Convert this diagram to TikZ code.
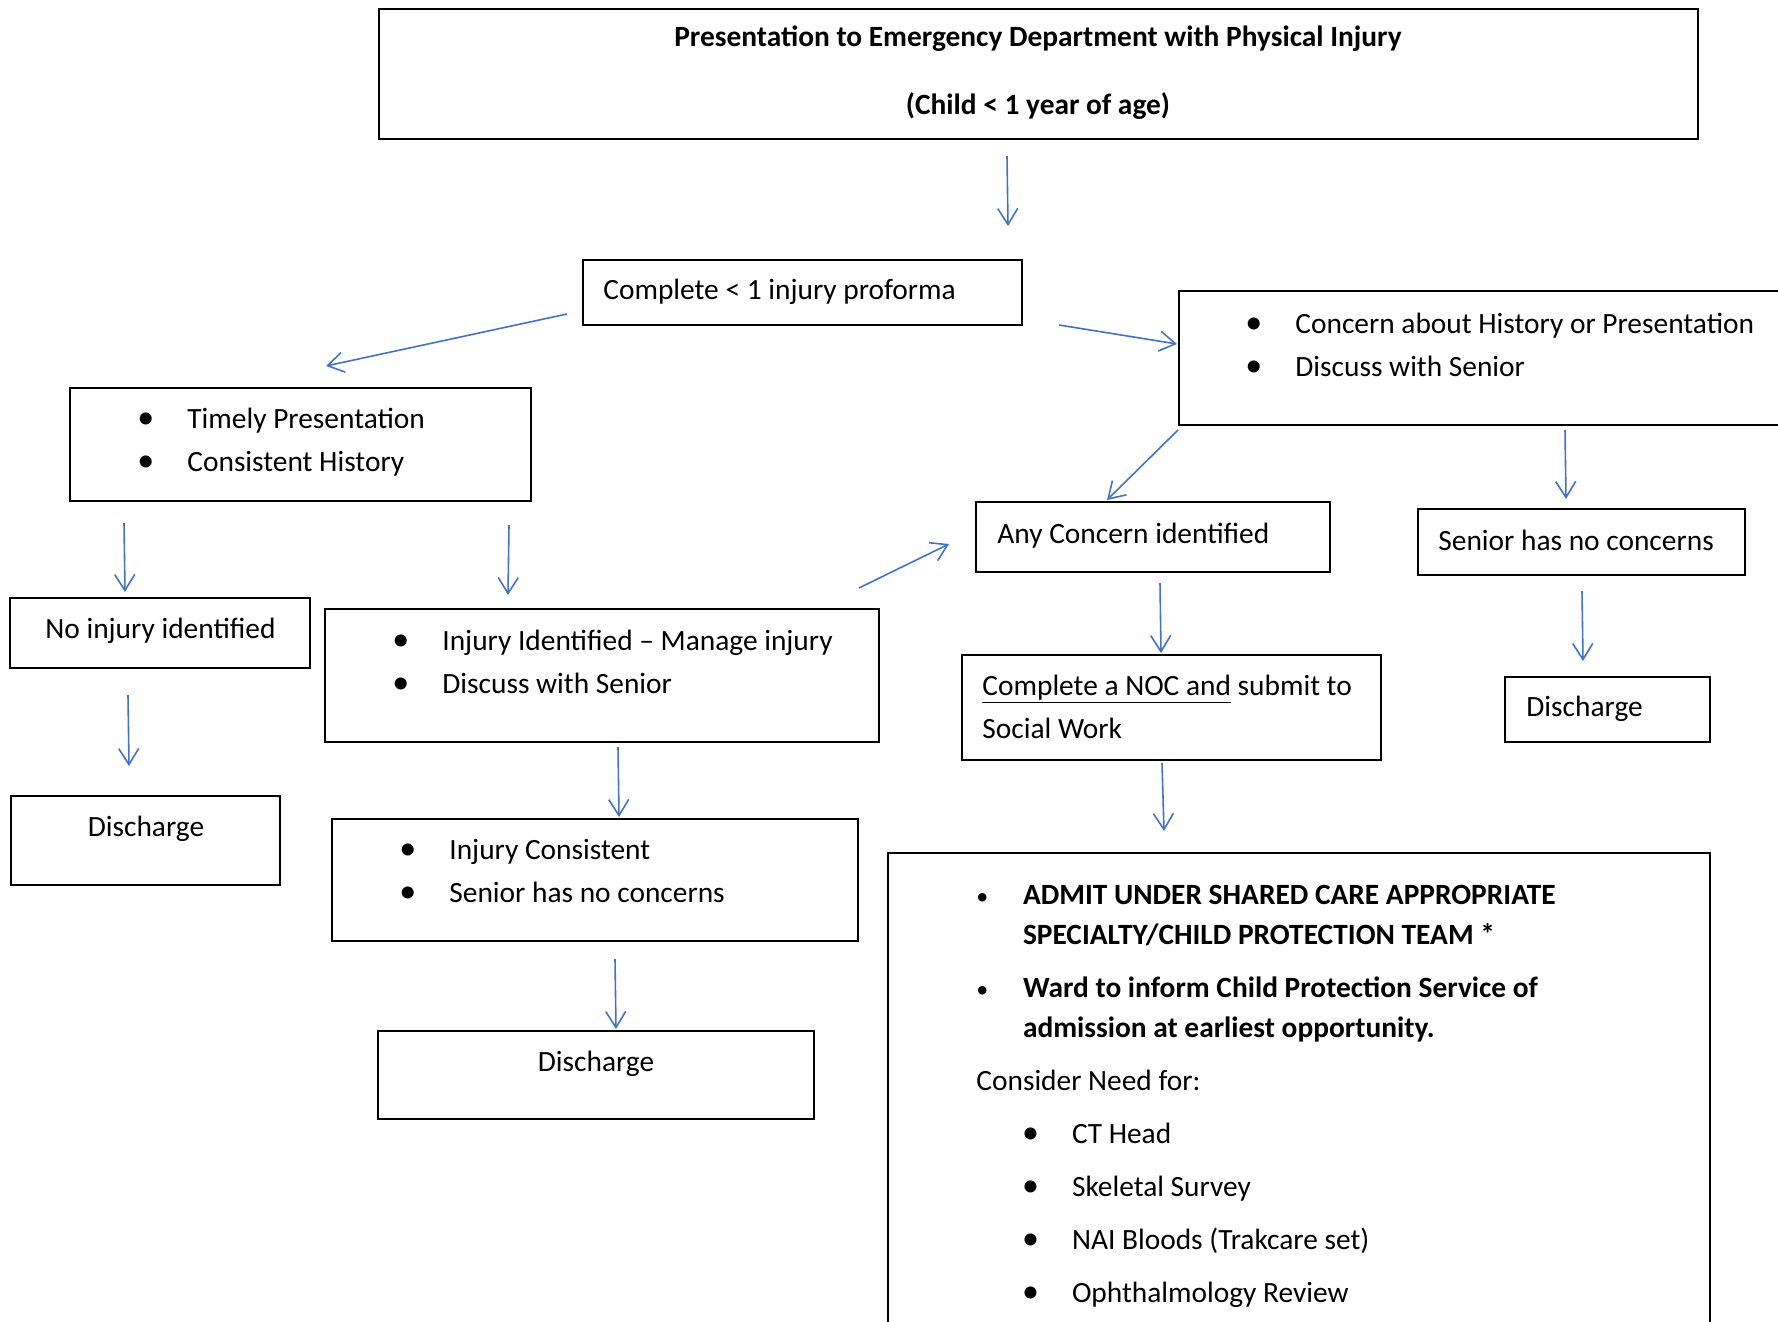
\documentclass[tikz,border=0pt]{standalone}
\usepackage{fontspec}
\setmainfont{Carlito}
\usetikzlibrary{arrows.meta,calc,fit}
\definecolor{flowblue}{RGB}{68,114,196}
\newcommand{\blt}{\makebox[25pt][l]{{\fontsize{17}{17}\selectfont\textbullet}}}
\newcommand{\bltsm}{\makebox[23.3pt][l]{{\fontsize{12}{12}\selectfont\textbullet}}}

\tikzset{
  box/.style={draw, line width=1pt, inner sep=0pt},
  txt/.style={inner sep=0pt, anchor=base west, align=left,
    execute at begin node={\spaceskip=0pt\xspaceskip=0pt\relax}},
  flow/.style={draw=flowblue, line width=0.8pt, -{Straight Barb[length=8pt,width=10pt]}},
}

\begin{document}
\begin{tikzpicture}[x=0.5pt,y=-0.5pt, font=\fontsize{14.7}{21.5}\selectfont]
\path[use as bounding box, clip] (0,0) rectangle (1778,1322);
% boxes
\node[box, fit={(379,9) (1698,139)}] (present) {};
\node[box, fit={(583,260) (1022,325)}] (proforma) {};
\node[box, fit={(1179,291) (1800,425)}] (concern) {};
\node[box, fit={(70,388) (531,501)}] (timely) {};
\node[box, fit={(10,598) (310,668)}] (noinj) {};
\node[box, fit={(11,796) (280,885)}] (dischA) {};
\node[box, fit={(325,609) (879,742)}] (injid) {};
\node[box, fit={(332,819) (858,941)}] (injcons) {};
\node[box, fit={(378,1031) (814,1119)}] (dischB) {};
\node[box, fit={(976,502) (1330,572)}] (anyconc) {};
\node[box, fit={(1418,509) (1745,575)}] (senior) {};
\node[box, fit={(1505,677) (1710,742)}] (dischC) {};
\node[box, fit={(962,655) (1381,760)}] (noc) {};
\node[box, fit={(888,853) (1710,1340)}] (admit) {};

% texts
\node[inner sep=0pt, anchor=base, font=\fontsize{14.7}{21.5}\selectfont\bfseries] (presentT) at (1038,47)
  {Presentation to Emergency Department with Physical Injury};
\node[inner sep=0pt, anchor=base, font=\fontsize{14.7}{21.5}\selectfont\bfseries] (presentU) at (1038,115)
  {(Child < 1 year of age)};
\node[txt] (proformaT) at (603,299) {Complete < 1 injury proforma};
\node[txt, text width=300pt] (concernT) at (1245,333) {\blt Concern about History or Presentation\\ \blt Discuss with Senior};
\node[txt, text width=200pt] (timelyT) at (137,428) {\blt Timely Presentation\\ \blt Consistent History};
\node[txt] (noinjT) at (45,638) {No injury identified};
\node[txt, anchor=base] (dischAT) at (146,836) {Discharge};
\node[txt, text width=250pt] (injidT) at (392,650) {\blt Injury Identified -- Manage injury\\ \blt Discuss with Senior};
\node[txt, text width=230pt] (injconsT) at (399,859) {\blt Injury Consistent\\ \blt Senior has no concerns};
\node[txt, anchor=base] (dischBT) at (596,1071) {Discharge};
\node[txt] (anyconcT) at (997,543) {Any Concern identified};
\node[txt] (seniorT) at (1438,550) {Senior has no concerns};
\node[txt] (dischCT) at (1526,716) {Discharge};
\node[txt, text width=200pt] (nocT) at (982,695) {\underline{Complete a NOC and} submit to\\ Social Work};
\node[txt, text width=360pt, font=\fontsize{14.7}{20}\selectfont] (admitT) at (976,904)
  {\bltsm\textbf{ADMIT UNDER SHARED CARE APPROPRIATE}\\
   \hspace*{23.3pt}\textbf{SPECIALTY/CHILD PROTECTION TEAM *}\\[6.5pt]
   \bltsm\textbf{Ward to inform Child Protection Service of}\\
   \hspace*{23.3pt}\textbf{admission at earliest opportunity.}\\[6.5pt]
   Consider Need for:\\[6.5pt]
   \hspace*{22.8pt}\blt CT Head\\[6.5pt]
   \hspace*{22.8pt}\blt Skeletal Survey\\[6.5pt]
   \hspace*{22.8pt}\blt NAI Bloods (Trakcare set)\\[6.5pt]
   \hspace*{22.8pt}\blt Ophthalmology Review};

% arrows
\draw[flow] ($(present.south west)+(629,16)$) -- ($(proforma.north west)+(426,-33)$);
\draw[flow] ($(proforma.west)+(-15,21.5)$) -- ($(timely.north west)+(257,-21)$);
\draw[flow] ($(proforma.east)+(36,32.5)$) -- ($(concern.west)+(-1,-14)$);
\draw[flow] ($(timely.south west)+(55,21)$) -- ($(noinj.north west)+(116,-5)$);
\draw[flow] ($(timely.south east)+(-23,23)$) -- ($(injid.north west)+(184,-13)$);
\draw[flow] ($(noinj.south west)+(119,26)$) -- ($(dischA.north west)+(119,-29)$);
\draw[flow] ($(injid.north east)+(-21,-20)$) -- ($(anyconc.west)+(-26,7)$);
\draw[flow] ($(injid.south west)+(294,4)$) -- ($(injcons.north west)+(288,-1)$);
\draw[flow] ($(injcons.south west)+(284,17)$) -- ($(dischB.north west)+(239,-1)$);
\draw[flow] ($(concern.south west)+(0,4)$) -- ($(anyconc.north west)+(132,-1)$);
\draw[flow] ($(concern.south west)+(387,4)$) -- ($(senior.north west)+(149,-9)$);
\draw[flow] ($(senior.south west)+(165,15)$) -- ($(dischC.north west)+(79,-15)$);
\draw[flow] ($(anyconc.south west)+(185,10)$) -- ($(noc.north west)+(200,-1)$);
\draw[flow] ($(noc.south west)+(201,2)$) -- ($(admit.north west)+(277,-21)$);
\end{tikzpicture}
\end{document}
